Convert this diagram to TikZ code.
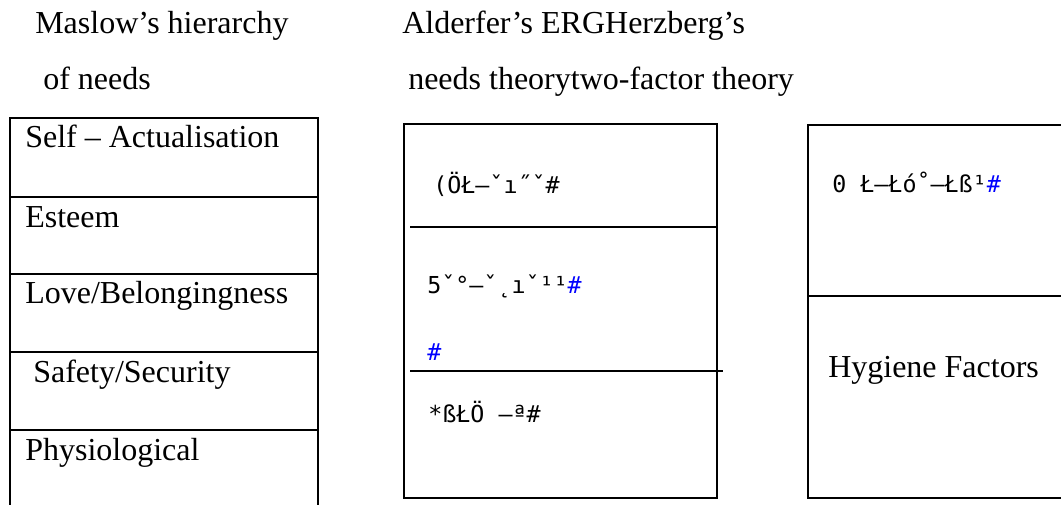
\documentclass[tikz,border=0pt]{standalone}
\usepackage{fontspec}
\setmainfont{Liberation Serif}
\newfontfamily\garbled{DejaVu Sans Mono}
\begin{document}
\begin{tikzpicture}[x=0.75pt,y=-0.75pt,
  lbl/.style={anchor=base west,inner sep=0pt,font=\fontsize{24}{28}\selectfont},
  gbl/.style={anchor=base west,inner sep=0pt,font=\garbled\fontsize{17.5}{20}\selectfont},
  frame/.style={line width=1.5pt},
  sep/.style={line width=1.3pt}]
\useasboundingbox (0,0) rectangle (1061,504);
% headers
\node[lbl] (h1) at (35,33) {Maslow’s hierarchy};
\node[lbl] (h2) at (43,89) {of needs};
\node[lbl] (h3) at (402,33) {Alderfer’s ERGHerzberg’s};
\node[lbl] (h4) at (408,89) {needs theorytwo-factor theory};
% left box
\draw[frame] (10,506) -- (10,118) -- (318,118) -- (318,506);
\foreach \yy in {197,274,352,430} \draw[sep] (10,\yy) -- (318,\yy);
\node[lbl] (m1) at (25,147) {Self – Actualisation};
\node[lbl] (m2) at (25,227) {Esteem};
\node[lbl] (m3) at (25,303) {Love/Belongingness};
\node[lbl] (m4) at (33,382) {Safety/Security};
\node[lbl] (m5) at (25,460) {Physiological};
% middle box
\draw[frame] (404,124) rectangle (717,498);
\draw[sep] (410,227) -- (717,227);
\draw[sep] (410,371) -- (723,371);
\node[gbl] (e1) at (433,193) {(ÖŁ–ˇı˝ˇ\#};
\node[gbl] (e2) at (427,293) {5ˇ°–ˇ˛ıˇ¹¹\textcolor{blue}{\#}};
\node[gbl,text=blue] (e3) at (427,360) {\#};
\node[gbl] (e4) at (428,422) {*ßŁÖ –ª\#};
% right box
\draw[frame] (1063,125) -- (808,125) -- (808,498) -- (1063,498);
\draw[sep] (808,296) -- (1063,296);
\node[gbl] (r1) at (832,192) {0 Ł–Łó˚–Łß¹\textcolor{blue}{\#}};
\node[lbl] (r2) at (828,377) {Hygiene Factors};
\end{tikzpicture}
\end{document}
